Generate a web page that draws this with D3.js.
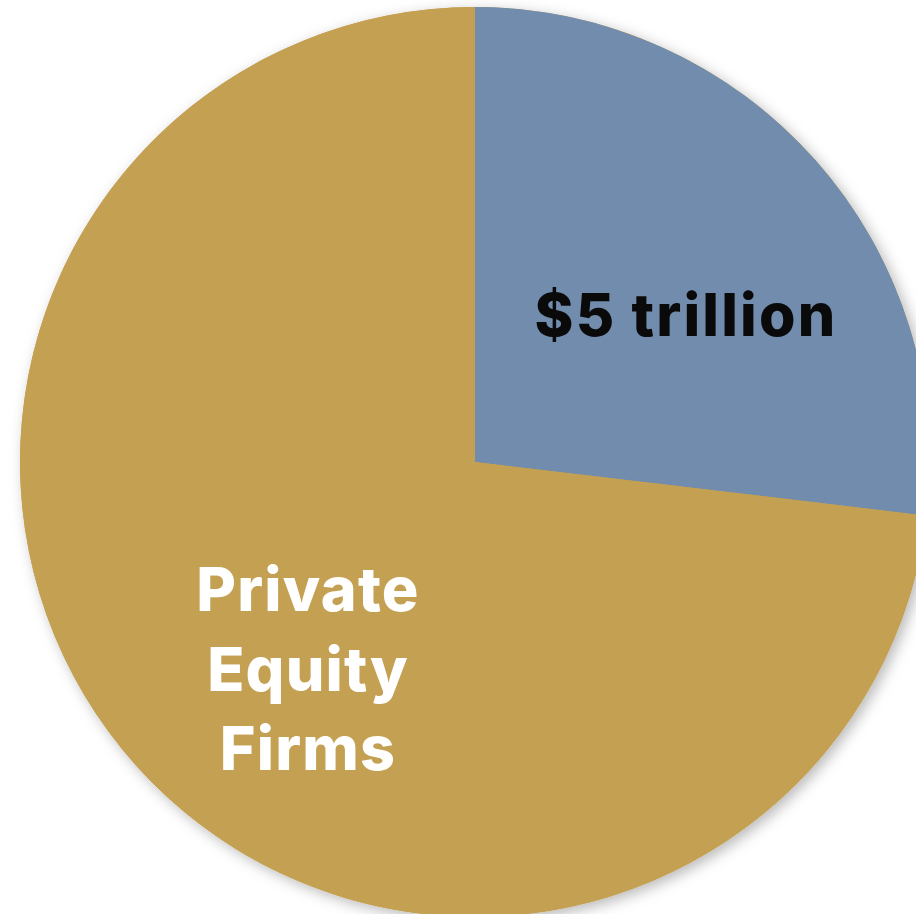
<!DOCTYPE html>
<html>
<head>
<meta charset="utf-8">
<script src="https://cdn.jsdelivr.net/npm/d3@7"></script>
<style>
  html, body { margin: 0; padding: 0; background: #ffffff; overflow: hidden; }
  svg { display: block; }
</style>
</head>
<body>
<svg id="chart" width="916" height="914"></svg>
<script>
// Slice data (trillions of dollars)
const categories = ["Blue", "Private Equity Firms"];
const values = [5, 13.6];
const colors = ["#718CAD", "#C4A052"];
const labelLines = [["$5 trillion"], ["Private", "Equity", "Firms"]];
const labelColors = ["#0a0a0a", "#ffffff"];

const width = 916, height = 914;
const cx = 475, cy = 462, radius = 455;

const svg = d3.select("#chart");

// soft drop shadow behind the disc
const defs = svg.append("defs");
const f = defs.append("filter").attr("id", "shadow")
  .attr("x", "-10%").attr("y", "-10%").attr("width", "120%").attr("height", "120%");
f.append("feDropShadow")
  .attr("dx", 4).attr("dy", 4).attr("stdDeviation", 7)
  .attr("flood-color", "#000").attr("flood-opacity", 0.28);

const pie = d3.pie().sort(null).value(d => d.value);
const arcs = pie(categories.map((c, i) => ({ name: c, value: values[i], i })));

const arc = d3.arc().innerRadius(0).outerRadius(radius);

const g = svg.append("g").attr("transform", `translate(${cx},${cy})`);

g.append("circle").attr("r", radius).attr("fill", colors[1]).attr("filter", "url(#shadow)");

g.selectAll("path.slice")
  .data(arcs)
  .join("path")
  .attr("class", "slice")
  .attr("d", arc)
  .attr("fill", d => colors[d.data.i]);

// label placement as offsets from the centre
const labelPos = [
  { x: 211, y: -126, size: 59, lh: 0, ls: 2.2 },
  { x: -167, y: 149, size: 61, lh: 79.5, ls: 1.2 }
];

arcs.forEach(d => {
  const i = d.data.i;
  const p = labelPos[i];
  const lines = labelLines[i];
  const t = g.append("text")
    .attr("text-anchor", "middle")
    .attr("font-family", "Inter, 'Open Sans', sans-serif")
    .attr("font-weight", 800)
    .attr("font-size", p.size)
    .attr("letter-spacing", p.ls)
    .attr("fill", labelColors[i]);
  lines.forEach((ln, k) => {
    t.append("tspan").attr("x", p.x).attr("y", p.y + k * p.lh).text(ln);
  });
});
</script>
</body>
</html>
